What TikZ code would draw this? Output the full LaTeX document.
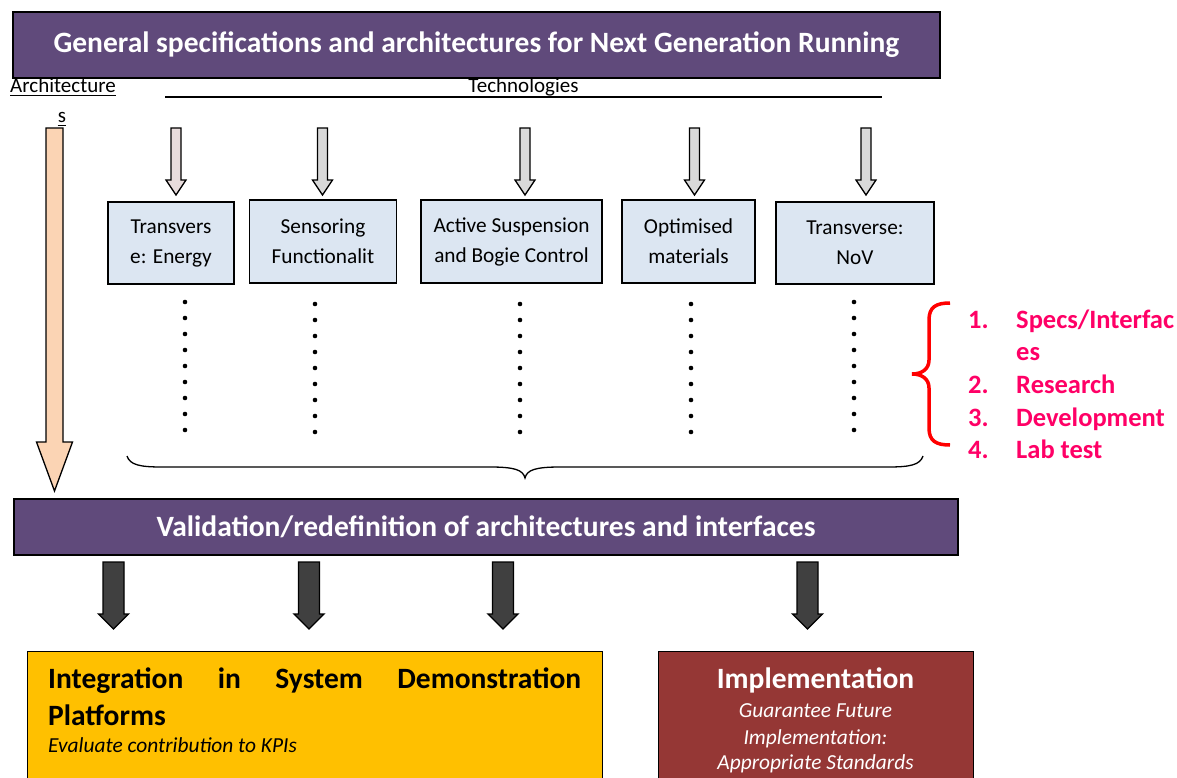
\documentclass[tikz,border=0pt]{standalone}
\usepackage{fontspec}
\setmainfont{Carlito}
\definecolor{purpleC}{HTML}{604A7B}
\definecolor{boxblue}{HTML}{DCE6F2}
\definecolor{peach}{HTML}{FBD4B4}
\definecolor{greyA}{HTML}{D9D9D9}
\definecolor{pinkgrey}{HTML}{E8DCDC}
\definecolor{darkA}{HTML}{404040}
\definecolor{yellowC}{HTML}{FFC000}
\definecolor{redC}{HTML}{953735}
\definecolor{pinkT}{HTML}{FF0066}
\newcommand\myDownArrow[7]{%
  \filldraw[fill=#7, line width=1.3pt, line join=miter]
    (#1-#5,#2) -- (#1+#5,#2) -- (#1+#5,#4) -- (#1+#6,#4) -- (#1,#3)
    -- (#1-#6,#4) -- (#1-#5,#4) -- cycle;}
\begin{document}
\begin{tikzpicture}[x=1pt,y=-1pt,
  banner/.style={draw=black,line width=1.5pt,fill=purpleC,text=white,
    font=\bfseries\fontsize{29.5}{34}\selectfont,inner sep=0},
  techbox/.style={draw=black,line width=1.3pt,fill=boxblue,align=center,
    font=\fontsize{21.3}{30}\selectfont,inner sep=0,minimum height=83pt},
  lbl/.style={inner sep=0,font=\fontsize{21}{25}\selectfont},
  listnum/.style={inner sep=0,anchor=base west,text=pinkT,
    font=\bfseries\fontsize{26.5}{30}\selectfont},
  bigbox/.style={draw=black,line width=1.3pt,inner sep=0,anchor=north west,
    minimum height=150pt},
  ttl/.style={inner sep=0,font=\bfseries\fontsize{29.5}{34}\selectfont},
  sub/.style={inner sep=0,font=\itshape\fontsize{21.4}{25}\selectfont}
]
\useasboundingbox (0,0) rectangle (1177,778);
\clip (0,0) rectangle (1177,778);

% top banner
\node[banner, minimum width=927pt, minimum height=66pt] (top) at (476.5,45)
  {General specifications and architectures for Next Generation Running};

% labels
\node[lbl,anchor=base west] (arch) at (10,93) {Architecture};
\draw[line width=1pt] ([yshift=-3pt]arch.base west) -- ([yshift=-3pt]arch.base east);
\node[lbl,anchor=base] (s) at (62,123) {s};
\draw[line width=1pt] ([yshift=-3pt]s.base west) -- ([yshift=-3pt]s.base east);
\node[lbl,anchor=base] (tech) at (523.5,93) {Technologies};
\coordinate (tl) at (165,97);
\coordinate (tr) at (882,97);
\draw[line width=1.5pt] (tl) -- (tr);

% orange architectures arrow
\myDownArrow{54.5}{128}{491}{442}{8.5}{18}{peach}

% grey arrows
\myDownArrow{176}{128}{195}{180}{5}{10}{pinkgrey}
\myDownArrow{322.5}{128}{195}{180}{5}{10}{greyA}
\myDownArrow{525}{128}{195}{180}{5}{10}{greyA}
\myDownArrow{694.5}{128}{195}{180}{5}{10}{greyA}
\myDownArrow{866}{128}{195}{180}{5}{10}{greyA}

% technology boxes
\node[techbox, minimum width=126pt, minimum height=82pt] (b1) at (171,243) {Transvers\\e: Energy};
\node[techbox, minimum width=147pt] (b2) at (323,241.5) {Sensoring\\Functionalit};
\node[techbox, minimum width=181pt] (b3) at (511.5,241.5) {Active Suspension\\and Bogie Control};
\node[techbox, minimum width=133pt] (b4) at (688.5,241.5) {Optimised\\materials};
\node[techbox, minimum width=158pt, minimum height=82pt] (b5) at (855,243) {Transverse:\\NoV};

% dotted columns
\foreach \x/\y in {185/302,315/304,520/304,691/304,854/302}
  \foreach \k in {0,...,8}
    \fill (\x,\y+16*\k) circle (2.3pt);

% black brace
\draw[line width=1.3pt] (127,456) .. controls (130,465) and (140,467) .. (162,467)
  -- (490,467) .. controls (515,467) and (523,470) .. (525,478)
  .. controls (527,470) and (535,467) .. (560,467)
  -- (888,467) .. controls (910,467) and (920,465) .. (923,456);

% red brace
\draw[red, line width=3.5pt] (950,303) .. controls (936,303) and (929,307) .. (929,320)
  -- (929,360) .. controls (929,369) and (922,374) .. (912,374)
  .. controls (922,374) and (929,379) .. (929,388)
  -- (929,428) .. controls (929,441) and (936,445) .. (950,445);

% red list
\node[listnum] (n1) at (968,328) {1.};
\node[listnum] (t1) at (1016,328) {Specs/Interfac};
\node[listnum] (t1b) at (1016,360) {es};
\node[listnum] (n2) at (968,393) {2.};
\node[listnum] (t2) at (1016,393) {Research};
\node[listnum] (n3) at (968,426) {3.};
\node[listnum] (t3) at (1016,426) {Development};
\node[listnum] (n4) at (968,458) {4.};
\node[listnum] (t4) at (1016,458) {Lab test};

% validation banner
\node[banner, minimum width=944pt, minimum height=56pt] (val) at (486,527)
  {Validation/redefinition of architectures and interfaces};

% dark arrows
\myDownArrow{113.5}{562}{629}{614}{10.5}{15}{darkA}
\myDownArrow{309}{562}{629}{614}{10.5}{15}{darkA}
\myDownArrow{503}{562}{629}{614}{10.5}{15}{darkA}
\myDownArrow{807.5}{562}{629}{614}{10.5}{15}{darkA}

% integration box
\node[bigbox, fill=yellowC, minimum width=575pt] (integ) at (27,651) {};
\node[ttl, anchor=base west] (i1) at (48,688)
  {\hbox to 533pt{Integration\hfill in\hfill System\hfill Demonstration}};
\node[ttl, anchor=base west] (i2) at (48,725) {Platforms};
\node[sub, anchor=base west] (i3) at (48,752) {Evaluate contribution to KPIs};

% implementation box
\node[bigbox, fill=redC, minimum width=315pt] (impl) at (658,651) {};
\node[ttl, anchor=base, text=white] (m1) at (815.5,688) {Implementation};
\node[sub, anchor=base, text=white] (m2) at (815.5,717) {Guarantee Future};
\node[sub, anchor=base, text=white] (m3) at (815.5,744) {Implementation:};
\node[sub, anchor=base, text=white] (m4) at (815.5,769) {Appropriate Standards};
\end{tikzpicture}
\end{document}
